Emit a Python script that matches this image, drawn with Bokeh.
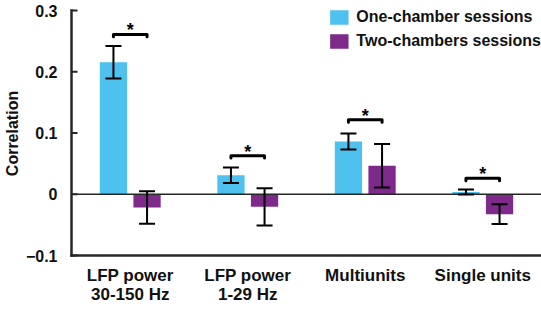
from bokeh.plotting import figure
from bokeh.models import (Range1d, ColumnDataSource, Whisker, TeeHead, Legend, LegendItem,
                          FixedTicker, CustomJSTickFormatter)
from bokeh.core.properties import value
from bokeh.embed import file_html
from bokeh.resources import INLINE

# ---- data ----
categories = ["LFP power\n30-150 Hz", "LFP power\n1-29 Hz", "Multiunits", "Single units"]
one_chamber = [0.2155, 0.031, 0.086, 0.0036]
one_err = [0.0265, 0.0125, 0.013, 0.0042]
two_chambers = [-0.0215, -0.0205, 0.0465, -0.0325]
two_err = [0.0265, 0.0305, 0.0355, 0.016]
sig_level = [0.261, 0.063, 0.1215, 0.026]
y_ticks = [-0.1, 0, 0.1, 0.2, 0.3]

BLUE = "#4FC1EE"
PURPLE = "#7D2A8A"
DARK = "#262626"
FONT = "Liberation Sans"

n = len(categories)
centers = [i + 1 for i in range(n)]
off = 0.143
bw = 0.232
x1 = [c - off for c in centers]
x2 = [c + off for c in centers]

# axis positions in data units; ranges padded by a few pixels so axis lines sit inside the frame
axis_x = 0.5
axis_y = min(y_ticks)
top_y = max(y_ticks)
px_x = 4.0 / 470.0          # data units per pixel (x)
px_y = 0.4 / 245.0          # data units per pixel (y)
xr = Range1d(axis_x - 3 * px_x, n + 0.5)
yr = Range1d(axis_y - 3 * px_y, top_y + 2 * px_y)

p = figure(frame_width=473, frame_height=250,
           output_backend="svg", toolbar_location=None,
           x_range=xr, y_range=yr,
           min_border_left=60, min_border_right=0, min_border_top=8, min_border_bottom=50)
p.outline_line_color = None
p.grid.visible = False

src1 = ColumnDataSource(dict(x=x1, top=one_chamber,
                             up=[v + e for v, e in zip(one_chamber, one_err)],
                             lo=[v - e for v, e in zip(one_chamber, one_err)]))
src2 = ColumnDataSource(dict(x=x2, top=two_chambers,
                             up=[v + e for v, e in zip(two_chambers, two_err)],
                             lo=[v - e for v, e in zip(two_chambers, two_err)]))

r1 = p.vbar(x="x", top="top", bottom=0, width=bw, source=src1, fill_color=BLUE, line_color=None)
r2 = p.vbar(x="x", top="top", bottom=0, width=bw, source=src2, fill_color=PURPLE, line_color=None)

# zero line
p.segment(x0=[axis_x], y0=[0], x1=[xr.end], y1=[0], line_color=DARK, line_width=1.6)

# axis lines and inward ticks drawn as filled strips
hw_x = 1.25 * px_x
hw_y = 1.25 * px_y
p.quad(left=[axis_x - hw_x, axis_x - hw_x], right=[axis_x + hw_x, xr.end],
       bottom=[axis_y - hw_y, axis_y - hw_y], top=[top_y + hw_y, axis_y + hw_y],
       fill_color=DARK, line_color=None)
p.quad(left=[axis_x] * len(y_ticks), right=[axis_x + 6 * px_x] * len(y_ticks),
       bottom=[t - px_y for t in y_ticks], top=[t + px_y for t in y_ticks],
       fill_color=DARK, line_color=None)

for s in (src1, src2):
    w = Whisker(base="x", upper="up", lower="lo", source=s, line_color="black", line_width=2,
                level="overlay",
                upper_head=TeeHead(size=16, line_width=2, line_color="black"),
                lower_head=TeeHead(size=16, line_width=2, line_color="black"))
    p.add_layout(w)

# significance brackets
h = 0.004
xs = [[a, a, b, b] for a, b in zip(x1, x2)]
ys = [[y - h, y, y, y - h] for y in sig_level]
p.multi_line(xs, ys, line_color="black", line_width=3, line_cap="round", line_join="round")
p.text(x=centers, y=sig_level, text=["*"] * n, text_align="center", text_baseline="alphabetic",
       y_offset=-4, text_font=value(FONT), text_font_style="bold", text_font_size="18px",
       text_color="black")

# axes (labels only)
yax = p.yaxis[0]
yax.ticker = FixedTicker(ticks=y_ticks)
yax.minor_tick_line_color = None
yax.major_tick_line_color = None
yax.major_tick_in = 0
yax.major_tick_out = 0
yax.axis_line_color = None
yax.major_label_text_font = FONT
yax.major_label_text_font_style = "bold"
yax.major_label_text_font_size = "16px"
yax.major_label_text_color = "#111111"
yax.major_label_standoff = 11
yax.axis_label = "Correlation"
yax.axis_label_text_font = FONT
yax.axis_label_text_font_style = "bold"
yax.axis_label_text_font_size = "16px"
yax.axis_label_text_color = "#111111"
yax.axis_label_standoff = 2

xax = p.xaxis[0]
xax.ticker = FixedTicker(ticks=centers)
xax.formatter = CustomJSTickFormatter(args=dict(labels=categories),
                                      code="const i = Math.round(tick) - 1; return (i >= 0 && i < labels.length) ? labels[i] : '';")
xax.major_tick_line_color = None
xax.minor_tick_line_color = None
xax.major_tick_in = 0
xax.major_tick_out = 0
xax.axis_line_color = None
xax.major_label_text_font = FONT
xax.major_label_text_font_style = "bold"
xax.major_label_text_font_size = "17px"
xax.major_label_text_color = "#111111"
xax.major_label_standoff = 7
xax.major_label_text_line_height = 1.05

legend = Legend(items=[LegendItem(label="One-chamber sessions", renderers=[r1]),
                       LegendItem(label="Two-chambers sessions", renderers=[r2])],
                location="top_right", border_line_alpha=0, background_fill_alpha=0,
                padding=0, margin=0, spacing=6, label_standoff=6,
                glyph_width=23, glyph_height=18, label_height=18,
                label_text_font=FONT, label_text_font_style="bold",
                label_text_font_size="16px", label_text_color="#111111")
p.add_layout(legend)

open("out.html", "w").write(file_html(p, INLINE))
